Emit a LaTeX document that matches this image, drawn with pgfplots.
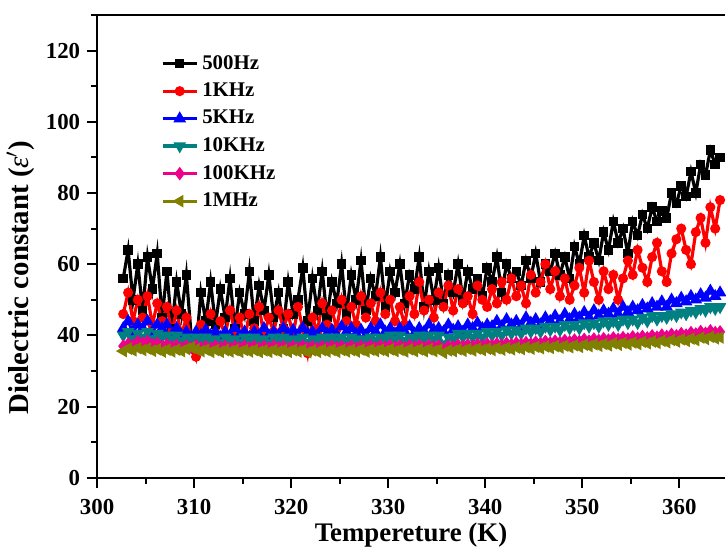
\documentclass[border=0pt]{standalone}
\usepackage{fontspec}
\setmainfont{Liberation Serif}
\usepackage{pgfplots}
\pgfplotsset{compat=1.18}

\definecolor{tealc}{RGB}{0,128,128}
\definecolor{olivec}{RGB}{128,128,0}

\begin{document}
\begin{tikzpicture}
\begin{axis}[
  name=ax,
  scale only axis,
  width=316pt, height=233pt,
  xmin=300, xmax=364.7,
  ymin=0, ymax=130,
  axis x line*=bottom, axis y line*=left,
  axis line style={line width=1.1pt, -},
  xtick={300,310,...,360}, ytick={0,20,...,120},
  minor xtick={305,315,...,365}, minor ytick={10,30,...,130},
  tick align=outside,
  major tick length=5pt, minor tick length=3pt,
  every tick/.style={line width=1pt, black},
  tick label style={font=\bfseries\fontsize{11.5}{12}\selectfont},
  xticklabel style={yshift=-2.5pt},
  /pgf/number format/assume math mode=true,
  xlabel={\bfseries\fontsize{13.5}{14}\selectfont Tempereture (K)},
  ylabel={\bfseries\fontsize{14.5}{15}\selectfont Dielectric constant (\textmd{\textit{ε}}$'$)},
  xlabel style={inner sep=0pt, yshift=-0.5pt},
  ylabel style={at={(ticklabel cs:0.432)}, yshift=-1pt},
  legend style={at={(0.092,0.931)}, anchor=north west, draw=none, fill=none,
    font=\bfseries\fontsize{10.5}{11}\selectfont, row sep=1.4pt},
  legend cell align=left,
  every axis plot/.append style={line width=1.6pt},
  clip=true,
]

% 500Hz
\addplot[black, mark=square*, mark size=1.6pt] coordinates {
(302.7,56) (303.2,64) (303.7,50) (304.2,60) (304.7,47) (305.2,62) (305.7,53) (306.2,63)
(306.7,45) (307.2,58) (307.7,42) (308.2,55) (308.7,46) (309.2,57) (309.7,40) (310.2,36)
(310.7,52) (311.2,44) (311.7,55) (312.2,43) (312.7,53) (313.2,45) (313.7,56) (314.2,42)
(314.7,52) (315.2,46) (315.7,58) (316.2,44) (316.7,54) (317.2,47) (317.7,57) (318.2,45)
(318.7,52) (319.2,42) (319.7,55) (320.2,46) (320.7,50) (321.2,59) (321.7,44) (322.2,56)
(322.7,47) (323.2,58) (323.7,45) (324.2,55) (324.7,49) (325.2,60) (325.7,46) (326.2,57)
(326.7,50) (327.2,61) (327.7,47) (328.2,56) (328.7,51) (329.2,62) (329.7,48) (330.2,58)
(330.7,52) (331.2,60) (331.7,49) (332.2,57) (332.7,53) (333.2,62) (333.7,48) (334.2,58)
(334.7,50) (335.2,59) (335.7,49) (336.2,57) (336.7,52) (337.2,60) (337.7,50) (338.2,58)
(338.7,53) (339.2,56) (339.7,51) (340.2,59) (340.7,55) (341.2,62) (341.7,52) (342.2,60)
(342.7,56) (343.2,58) (343.7,54) (344.2,61) (344.7,56) (345.2,63) (345.7,55) (346.2,60)
(346.7,58) (347.2,63) (347.7,57) (348.2,62) (348.7,56) (349.2,65) (349.7,60) (350.2,68)
(350.7,62) (351.2,66) (351.7,61) (352.2,69) (352.7,64) (353.2,72) (353.7,66) (354.2,70)
(354.7,63) (355.2,72) (355.7,68) (356.2,74) (356.7,70) (357.2,76) (357.7,72) (358.2,75)
(358.7,73) (359.2,80) (359.7,77) (360.2,82) (360.7,79) (361.2,86) (361.7,80) (362.2,88)
(362.7,85) (363.2,92) (363.7,88) (364.2,90)
};

% 1KHz
\addplot[red, mark=*, mark size=1.7pt] coordinates {
(302.7,46) (303.2,52) (303.7,44) (304.2,50) (304.7,45) (305.2,51) (305.7,43) (306.2,49)
(306.7,44) (307.2,48) (307.7,41) (308.2,47) (308.7,40) (309.2,45) (309.7,39) (310.2,34)
(310.7,43) (311.2,40) (311.7,46) (312.2,39) (312.7,44) (313.2,40) (313.7,47) (314.2,41)
(314.7,45) (315.2,39) (315.7,46) (316.2,42) (316.7,48) (317.2,40) (317.7,45) (318.2,41)
(318.7,47) (319.2,42) (319.7,46) (320.2,40) (320.7,48) (321.2,42) (321.7,35) (322.2,45)
(322.7,41) (323.2,49) (323.7,43) (324.2,47) (324.7,42) (325.2,50) (325.7,44) (326.2,48)
(326.7,43) (327.2,51) (327.7,45) (328.2,49) (328.7,44) (329.2,52) (329.7,46) (330.2,50)
(330.7,44) (331.2,48) (331.7,43) (332.2,51) (332.7,46) (333.2,55) (333.7,47) (334.2,50)
(334.7,45) (335.2,52) (335.7,48) (336.2,54) (336.7,47) (337.2,53) (337.7,49) (338.2,51)
(338.7,46) (339.2,54) (339.7,50) (340.2,48) (340.7,53) (341.2,49) (341.7,55) (342.2,50)
(342.7,56) (343.2,51) (343.7,54) (344.2,49) (344.7,57) (345.2,52) (345.7,55) (346.2,60)
(346.7,53) (347.2,58) (347.7,51) (348.2,56) (348.7,50) (349.2,54) (349.7,59) (350.2,52)
(350.7,61) (351.2,55) (351.7,50) (352.2,58) (352.7,53) (353.2,57) (353.7,50) (354.2,56)
(354.7,61) (355.2,57) (355.7,64) (356.2,59) (356.7,55) (357.2,62) (357.7,66) (358.2,58)
(358.7,55) (359.2,63) (359.7,67) (360.2,70) (360.7,64) (361.2,60) (361.7,69) (362.2,73)
(362.7,66) (363.2,76) (363.7,70) (364.2,78)
};

% 5KHz
\addplot[blue, mark=triangle*, mark size=2.1pt] coordinates {
(302.7,42) (303.2,44) (303.7,41) (304.2,43) (304.7,42) (305.2,44) (305.7,41) (306.2,43)
(306.7,42) (307.2,43) (307.7,40) (308.2,42) (308.7,40) (309.2,41) (309.7,39.5) (310.2,41)
(310.7,40) (311.2,41.5) (311.7,40) (312.2,41) (312.7,39.5) (313.2,41) (313.7,40) (314.2,42)
(314.7,40) (315.2,41) (315.7,39.5) (316.2,41) (316.7,40) (317.2,42) (317.7,40) (318.2,41)
(318.7,40) (319.2,42) (319.7,40.5) (320.2,41.5) (320.7,40) (321.2,42) (321.7,40.5) (322.2,41)
(322.7,40) (323.2,42) (323.7,40.5) (324.2,41.5) (324.7,40) (325.2,42.5) (325.7,41) (326.2,42)
(326.7,40.5) (327.2,41.5) (327.7,40) (328.2,42) (328.7,41) (329.2,43) (329.7,41) (330.2,42)
(330.7,40.5) (331.2,42) (331.7,41) (332.2,42.5) (332.7,40.5) (333.2,42) (333.7,41) (334.2,43)
(334.7,41.5) (335.2,42) (335.7,41) (336.2,43) (336.7,41.5) (337.2,42.5) (337.7,41) (338.2,43)
(338.7,42) (339.2,43.5) (339.7,42) (340.2,43) (340.7,42.5) (341.2,44) (341.7,42.5) (342.2,44.5)
(342.7,43) (343.2,44) (343.7,42.5) (344.2,45) (344.7,43.5) (345.2,44.5) (345.7,43) (346.2,45)
(346.7,44) (347.2,45.5) (347.7,44) (348.2,46) (348.7,44.5) (349.2,46) (349.7,45) (350.2,46.5)
(350.7,45) (351.2,47) (351.7,45.5) (352.2,47) (352.7,46) (353.2,47.5) (353.7,46) (354.2,48)
(354.7,46.5) (355.2,48) (355.7,47) (356.2,48.5) (356.7,47.5) (357.2,49) (357.7,48) (358.2,49.5)
(358.7,48) (359.2,50) (359.7,49) (360.2,50.5) (360.7,49.5) (361.2,51) (361.7,50) (362.2,51.5)
(362.7,50.5) (363.2,52.5) (363.7,51) (364.2,52)
};

% 10KHz
\addplot[tealc, mark=triangle*, mark options={rotate=180}, mark size=2.1pt] coordinates {
(302.7,40) (303.2,41) (303.7,39) (304.2,40.5) (304.7,39.5) (305.2,41) (305.7,39) (306.2,40.5)
(306.7,39.5) (307.2,40) (307.7,39) (308.2,40) (308.7,38.5) (309.2,39.5) (309.7,38.5) (310.2,39.5)
(310.7,38.5) (311.2,39.5) (311.7,38.5) (312.2,39) (312.7,38) (313.2,39.5) (313.7,38.5) (314.2,39)
(314.7,38) (315.2,39.5) (315.7,38.5) (316.2,39.5) (316.7,38.5) (317.2,39) (317.7,38) (318.2,39.5)
(318.7,38.5) (319.2,39.5) (319.7,38.5) (320.2,39) (320.7,38.5) (321.2,39.5) (321.7,38) (322.2,39)
(322.7,38.5) (323.2,39.5) (323.7,38.5) (324.2,39.5) (324.7,38.5) (325.2,39.5) (325.7,38.5) (326.2,39.5)
(326.7,38.5) (327.2,39) (327.7,38.5) (328.2,39.5) (328.7,38.5) (329.2,39.5) (329.7,39) (330.2,40)
(330.7,39) (331.2,40) (331.7,38.5) (332.2,39.5) (332.7,39) (333.2,40) (333.7,39) (334.2,40)
(334.7,39) (335.2,40) (335.7,37.5) (336.2,39.5) (336.7,39) (337.2,40.5) (337.7,39.5) (338.2,40.5)
(338.7,39.5) (339.2,40.5) (339.7,39.5) (340.2,41) (340.7,40) (341.2,41) (341.7,40) (342.2,41.5)
(342.7,40.5) (343.2,41.5) (343.7,40.5) (344.2,42) (344.7,41) (345.2,42) (345.7,41) (346.2,42.5)
(346.7,41.5) (347.2,42.5) (347.7,41.5) (348.2,43) (348.7,42) (349.2,43) (349.7,42) (350.2,43.5)
(350.7,42.5) (351.2,43.5) (351.7,42.5) (352.2,44) (352.7,43) (353.2,44) (353.7,43) (354.2,44.5)
(354.7,43.5) (355.2,44.5) (355.7,43.5) (356.2,45) (356.7,44) (357.2,45.5) (357.7,44.5) (358.2,45.5)
(358.7,45) (359.2,46) (359.7,45.5) (360.2,46.5) (360.7,46) (361.2,47) (361.7,46.5) (362.2,47.5)
(362.7,47) (363.2,48) (363.7,47.5) (364.2,48)
};

% 100KHz
\addplot[magenta, mark=diamond*, mark size=2.1pt] coordinates {
(302.7,37) (303.2,37.6) (303.7,37.2) (304.2,38.2) (304.7,37.8) (305.2,38.3) (305.7,37.4) (306.2,37.8)
(306.7,37) (307.2,37.4) (307.7,36.8) (308.2,37.2) (308.7,36.5) (309.2,37) (309.7,36.6) (310.2,37.2)
(310.7,36.5) (311.2,36.9) (311.7,36.4) (312.2,37) (312.7,36.6) (313.2,36.9) (313.7,36.4) (314.2,36.9)
(314.7,36.5) (315.2,37) (315.7,36.5) (316.2,36.9) (316.7,36.4) (317.2,36.9) (317.7,36.5) (318.2,37)
(318.7,36.6) (319.2,36.9) (319.7,36.4) (320.2,36.9) (320.7,36.5) (321.2,37) (321.7,36.5) (322.2,36.9)
(322.7,36.4) (323.2,36.9) (323.7,36.5) (324.2,37) (324.7,36.6) (325.2,36.9) (325.7,36.4) (326.2,37)
(326.7,36.5) (327.2,37) (327.7,36.6) (328.2,37.1) (328.7,36.6) (329.2,37.1) (329.7,36.7) (330.2,37.2)
(330.7,36.7) (331.2,37.1) (331.7,36.6) (332.2,37.2) (332.7,36.8) (333.2,37.2) (333.7,36.7) (334.2,37.2)
(334.7,36.8) (335.2,37.1) (335.7,36.1) (336.2,37) (336.7,36.8) (337.2,37.3) (337.7,36.9) (338.2,37.4)
(338.7,37) (339.2,37.5) (339.7,37.1) (340.2,37.6) (340.7,37.2) (341.2,37.7) (341.7,37.3) (342.2,37.8)
(342.7,37.4) (343.2,37.9) (343.7,37.5) (344.2,38) (344.7,37.6) (345.2,38.1) (345.7,37.7) (346.2,38.3)
(346.7,37.9) (347.2,38.4) (347.7,38) (348.2,38.6) (348.7,38.2) (349.2,38.7) (349.7,38.3) (350.2,38.9)
(350.7,38.4) (351.2,39) (351.7,38.6) (352.2,39.1) (352.7,38.7) (353.2,39.3) (353.7,38.9) (354.2,39.4)
(354.7,39) (355.2,39.6) (355.7,39.2) (356.2,39.7) (356.7,39.3) (357.2,39.9) (357.7,39.5) (358.2,40.1)
(358.7,39.7) (359.2,40.3) (359.7,39.9) (360.2,40.5) (360.7,40.1) (361.2,40.8) (361.7,40.4) (362.2,41.1)
(362.7,40.6) (363.2,41.3) (363.7,40.8) (364.2,41)
};

% 1MHz
\addplot[olivec, mark=triangle*, mark options={rotate=90}, mark size=2.1pt] coordinates {
(302.7,35.6) (303.2,36.3) (303.7,35.8) (304.2,36.4) (304.7,35.9) (305.2,36.3) (305.7,35.7) (306.2,36.1)
(306.7,35.5) (307.2,36) (307.7,35.5) (308.2,36) (308.7,35.6) (309.2,36.2) (309.7,36.6) (310.2,36.1)
(310.7,35.6) (311.2,36) (311.7,35.4) (312.2,35.9) (312.7,35.4) (313.2,35.9) (313.7,35.5) (314.2,35.9)
(314.7,35.4) (315.2,35.9) (315.7,35.5) (316.2,35.9) (316.7,35.4) (317.2,35.8) (317.7,35.4) (318.2,35.9)
(318.7,35.5) (319.2,35.9) (319.7,35.4) (320.2,35.9) (320.7,35.5) (321.2,35.9) (321.7,35.3) (322.2,35.8)
(322.7,35.4) (323.2,35.9) (323.7,35.5) (324.2,35.9) (324.7,35.4) (325.2,35.9) (325.7,35.5) (326.2,35.9)
(326.7,35.5) (327.2,36) (327.7,35.5) (328.2,36) (328.7,35.6) (329.2,36) (329.7,35.6) (330.2,36.1)
(330.7,35.6) (331.2,36) (331.7,35.5) (332.2,36.1) (332.7,35.6) (333.2,36.1) (333.7,35.6) (334.2,36.1)
(334.7,35.6) (335.2,36) (335.7,35.1) (336.2,35.8) (336.7,35.6) (337.2,36.1) (337.7,35.7) (338.2,36.2)
(338.7,35.8) (339.2,36.3) (339.7,35.9) (340.2,36.3) (340.7,35.9) (341.2,36.4) (341.7,36) (342.2,36.5)
(342.7,36.1) (343.2,36.6) (343.7,36.2) (344.2,36.7) (344.7,36.3) (345.2,36.8) (345.7,36.4) (346.2,36.9)
(346.7,36.5) (347.2,37) (347.7,36.6) (348.2,37.1) (348.7,36.7) (349.2,37.2) (349.7,36.8) (350.2,37.4)
(350.7,37) (351.2,37.5) (351.7,37.1) (352.2,37.6) (352.7,37.2) (353.2,37.8) (353.7,37.4) (354.2,37.9)
(354.7,37.5) (355.2,38) (355.7,37.6) (356.2,38.2) (356.7,37.8) (357.2,38.3) (357.7,37.9) (358.2,38.5)
(358.7,38.1) (359.2,38.7) (359.7,38.3) (360.2,38.9) (360.7,38.5) (361.2,39.1) (361.7,38.7) (362.2,39.4)
(362.7,39) (363.2,39.6) (363.7,39.2) (364.2,39.4)
};

\legend{500Hz, 1KHz, 5KHz, 10KHz, 100KHz, 1MHz}
\end{axis}
\draw[line width=1.1pt] ([xshift=-0.55pt]ax.north west) -- (ax.north east);
\path (ax.north west) ++(0,7.5pt);
\end{tikzpicture}
\end{document}
